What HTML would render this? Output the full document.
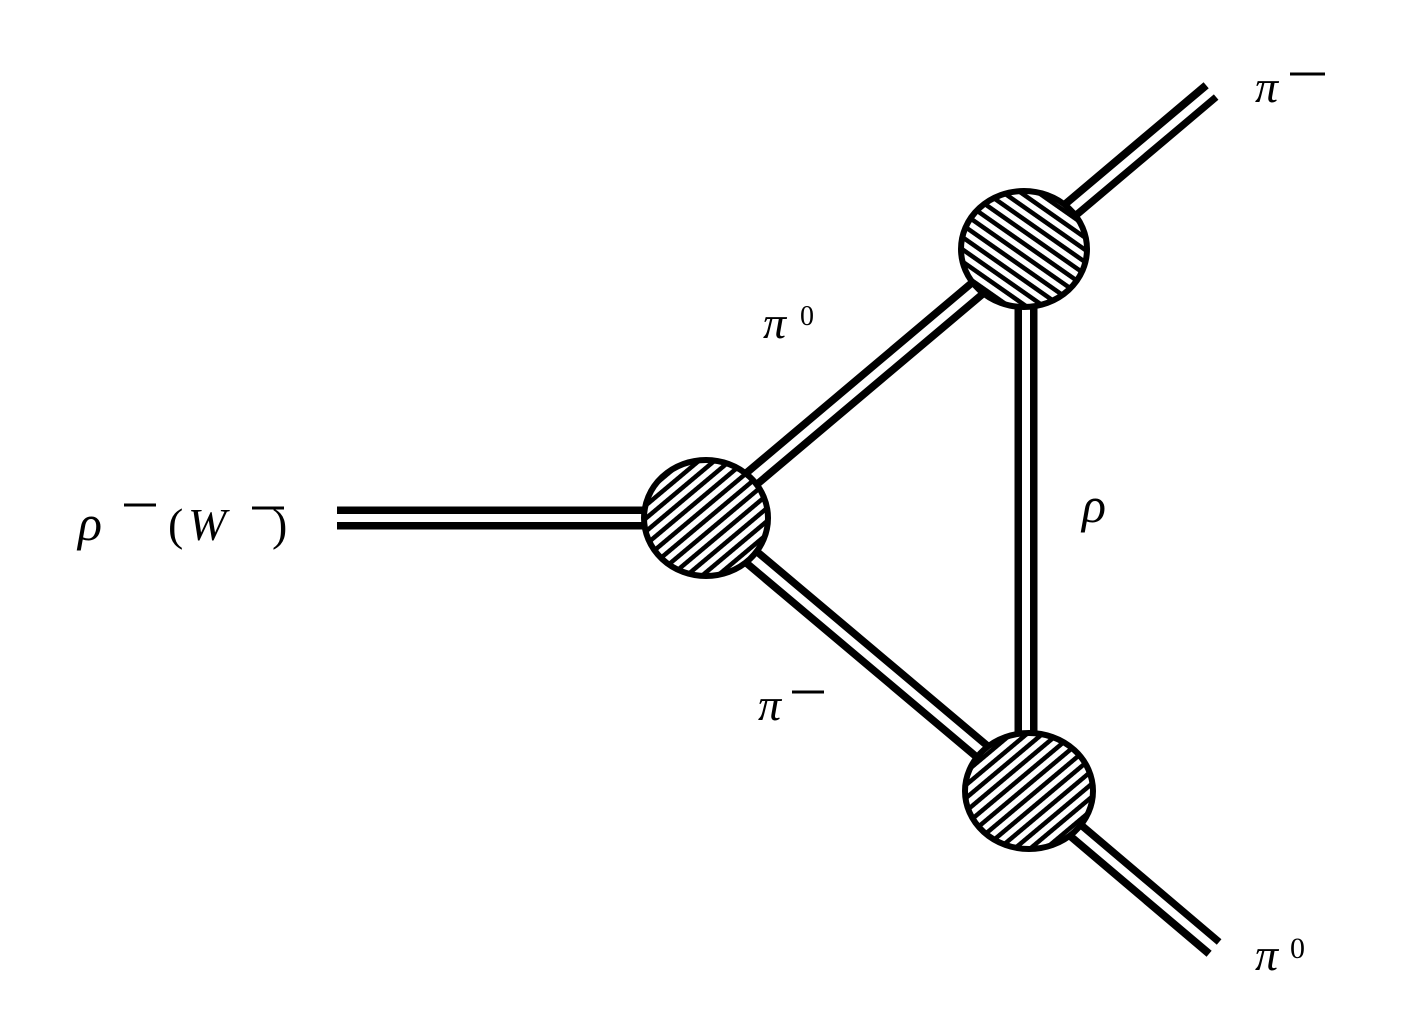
<!DOCTYPE html>
<html><head><meta charset="utf-8"><style>
html,body{margin:0;padding:0;background:#fff;}
svg{display:block;}
text{font-family:"Liberation Serif",serif;fill:#000;}
</style></head><body>
<svg width="1402" height="1035" viewBox="0 0 1402 1035" xmlns="http://www.w3.org/2000/svg">
<defs>
<pattern id="hA" patternUnits="userSpaceOnUse" width="10" height="10" patternTransform="rotate(-40)">
<rect width="10" height="10" fill="#fff"/><rect width="10" height="4.5" fill="#000"/>
</pattern>
<pattern id="hB" patternUnits="userSpaceOnUse" width="10" height="10" patternTransform="rotate(35)">
<rect width="10" height="10" fill="#fff"/><rect width="10" height="4.5" fill="#000"/>
</pattern>
</defs>
<g stroke-linecap="butt">
<g stroke="#000" stroke-width="23">
<line x1="337" y1="518" x2="705" y2="518"/>
<line x1="705" y1="518" x2="1024" y2="249"/>
<line x1="705" y1="518" x2="1029" y2="791"/>
<line x1="1026" y1="249" x2="1026" y2="791"/>
<line x1="1024" y1="249" x2="1211" y2="91"/>
<line x1="1029" y1="791" x2="1214" y2="948"/>
</g>
<g stroke="#fff" stroke-width="8">
<line x1="330" y1="518" x2="705" y2="518"/>
<line x1="705" y1="518" x2="1024" y2="249"/>
<line x1="705" y1="518" x2="1029" y2="791"/>
<line x1="1026" y1="249" x2="1026" y2="791"/>
<line x1="1024" y1="249" x2="1220" y2="84"/>
<line x1="1029" y1="791" x2="1224" y2="956"/>
</g>
</g>
<ellipse cx="706" cy="518" rx="62" ry="58" fill="url(#hA)" stroke="#000" stroke-width="6"/>
<ellipse cx="1024" cy="249" rx="63" ry="58" fill="url(#hB)" stroke="#000" stroke-width="6"/>
<ellipse cx="1029" cy="791" rx="64" ry="58" fill="url(#hA)" stroke="#000" stroke-width="6"/>
<g stroke="#000" stroke-width="3">
<line x1="124" y1="505" x2="156" y2="505"/>
<line x1="252" y1="508" x2="284" y2="508"/>
<line x1="792" y1="692" x2="824" y2="692"/>
<line x1="1290" y1="74" x2="1325" y2="74"/>
</g>
<g>
<text x="78" y="540" font-size="50" font-style="italic">ρ</text>
<text x="168" y="540" font-size="46">(</text>
<text x="188" y="540" font-size="46" font-style="italic">W</text>
<text x="272" y="540" font-size="46">)</text>
<text x="763" y="338" font-size="46" font-style="italic">π</text><text x="800" y="325" font-size="28">0</text>
<text x="1082" y="522" font-size="50" font-style="italic">ρ</text>
<text x="758" y="720" font-size="46" font-style="italic">π</text>
<text x="1255" y="102" font-size="46" font-style="italic">π</text>
<text x="1255" y="970" font-size="46" font-style="italic">π</text><text x="1290" y="958" font-size="30">0</text>
</g>
</svg>
</body></html>
